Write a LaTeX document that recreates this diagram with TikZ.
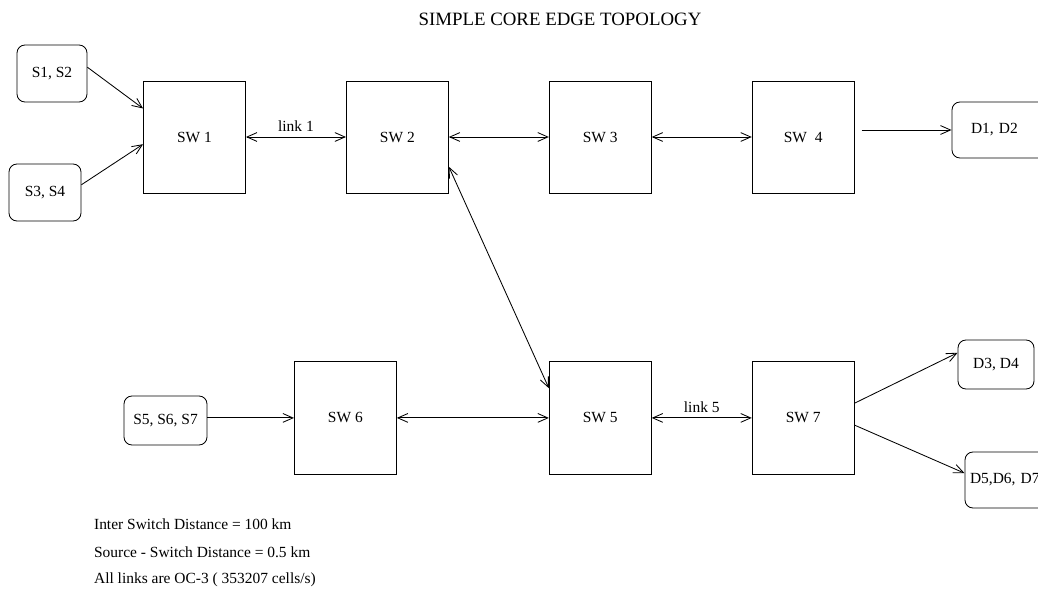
\documentclass[tikz,border=0pt]{standalone}
\usepackage{fontspec}
\setmainfont{Liberation Serif}
\usetikzlibrary{arrows.meta,positioning}

\begin{document}
\begin{tikzpicture}[
    x=0.025cm, y=-0.025cm,
    line width=0.6pt,
    node distance=2.5cm,
    every node/.style={font=\fontsize{11}{13}\selectfont},
    switch/.style={draw, minimum width=2.55cm, minimum height=2.8cm},
    host/.style={draw, rounded corners=0.2cm, align=center},
    link/.style={{Straight Barb[length=2.5mm,width=2.2mm]}-{Straight Barb[length=2.5mm,width=2.2mm]}},
    flow/.style={-{Straight Barb[length=2.5mm,width=2.2mm]}}
]
\useasboundingbox (0,0) rectangle (1038,590);

\node[font=\fontsize{13.4}{16}\selectfont] (title) at (560,19) {SIMPLE CORE EDGE TOPOLOGY};

% switches
\node[switch] (sw1) at (194.5,137) {SW 1};
\node[switch, right=of sw1] (sw2) {SW 2};
\node[switch, right=of sw2] (sw3) {SW 3};
\node[switch, right=of sw3] (sw4) {SW\ \ 4};
\node[switch, below=4.2cm of sw3] (sw5) {SW 5};
\node[switch, right=of sw5] (sw7) {SW 7};
\node[switch, left=3.8cm of sw5] (sw6) {SW 6};

% sources and destinations
\node[host, minimum width=1.75cm, minimum height=1.425cm] (s12) at (52,73.5) {S1, S2};
\node[host, minimum width=1.8cm, minimum height=1.425cm] (s34) at (45,192.5) {S3, S4};
\node[host, minimum width=2.075cm, minimum height=1.225cm] (s567) at (165.5,420.5) {S5, S6, S7};
\node[host, minimum height=1.4cm, text width=1.55cm, inner xsep=0.475cm, align=left] (d12) at (1002,130) {D1, D2};
\node[host, minimum width=1.9cm, minimum height=1.225cm] (d34) at (996,364.5) {D3, D4};
\node[host, minimum height=1.4cm, text width=1.875cm, inner xsep=0.125cm, align=left] (d567) at (1007.5,480) {D5,D6, D7};

\draw[flow] (s12.10) -- (sw1.151);
\draw[flow] (s34.12) -- (sw1.188);
\draw[link] (sw1) -- node[above] {link 1} (sw2);
\draw[link] (sw2) -- (sw3);
\draw[link] (sw3) -- (sw4);
\draw[flow, shorten <=0.175cm] (sw4.east |- d12.west) -- (d12.west);
\draw[link] (sw2.-30) -- (sw5.150);
\draw[flow] (s567.east |- sw6.west) -- (sw6.west);
\draw[link] (sw6) -- (sw5);
\draw[link] (sw5) -- node[above] {link 5} (sw7);
\draw[flow] (sw7.16) -- (d34.163);
\draw[flow] (sw7.-8) -- (d567.171);

\node[anchor=west] (note1) at (89,524) {Inter Switch Distance = 100 km};
\node[anchor=west] (note2) at (89,552) {Source - Switch Distance = 0.5 km};
\node[anchor=west] (note3) at (89,580) {All links are OC-3 ( 353207 cells/s)};
\end{tikzpicture}
\end{document}
